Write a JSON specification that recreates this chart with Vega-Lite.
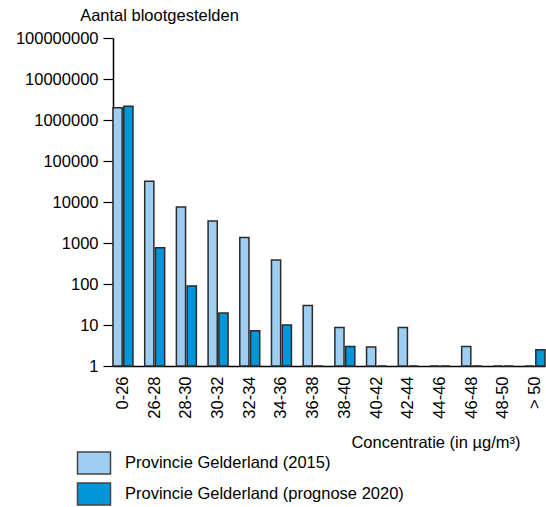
{
  "$schema": "https://vega.github.io/schema/vega-lite/v6.json",
  "width": 432,
  "height": 328,
  "autosize": {"type": "none"},
  "padding": {"left": 113, "top": 38, "right": 1, "bottom": 141},
  "config": {
    "font": "Liberation Sans",
    "view": {"stroke": null},
    "axis": {"labelFont": "Liberation Sans", "titleFont": "Liberation Sans", "labelColor": "#000", "titleColor": "#000", "labelFontSize": 16.5, "titleFontSize": 16.5, "titleFontWeight": "normal", "domainColor": "#000", "tickColor": "#000", "domainWidth": 1.5, "tickWidth": 1.2},
    "legend": {"labelFont": "Liberation Sans", "labelFontSize": 16.5, "labelColor": "#000"}
  },
  "data": {
    "values": [
      {"cat": "0-26", "serie": "Provincie Gelderland (2015)", "value": 2000000},
      {"cat": "0-26", "serie": "Provincie Gelderland (prognose 2020)", "value": 2150000},
      {"cat": "26-28", "serie": "Provincie Gelderland (2015)", "value": 32000},
      {"cat": "26-28", "serie": "Provincie Gelderland (prognose 2020)", "value": 770},
      {"cat": "28-30", "serie": "Provincie Gelderland (2015)", "value": 7500},
      {"cat": "28-30", "serie": "Provincie Gelderland (prognose 2020)", "value": 90},
      {"cat": "30-32", "serie": "Provincie Gelderland (2015)", "value": 3450},
      {"cat": "30-32", "serie": "Provincie Gelderland (prognose 2020)", "value": 19.5},
      {"cat": "32-34", "serie": "Provincie Gelderland (2015)", "value": 1370},
      {"cat": "32-34", "serie": "Provincie Gelderland (prognose 2020)", "value": 7.2},
      {"cat": "34-36", "serie": "Provincie Gelderland (2015)", "value": 385},
      {"cat": "34-36", "serie": "Provincie Gelderland (prognose 2020)", "value": 10},
      {"cat": "36-38", "serie": "Provincie Gelderland (2015)", "value": 30},
      {"cat": "36-38", "serie": "Provincie Gelderland (prognose 2020)", "value": 1},
      {"cat": "38-40", "serie": "Provincie Gelderland (2015)", "value": 8.7},
      {"cat": "38-40", "serie": "Provincie Gelderland (prognose 2020)", "value": 3},
      {"cat": "40-42", "serie": "Provincie Gelderland (2015)", "value": 2.9},
      {"cat": "40-42", "serie": "Provincie Gelderland (prognose 2020)", "value": 1},
      {"cat": "42-44", "serie": "Provincie Gelderland (2015)", "value": 8.7},
      {"cat": "42-44", "serie": "Provincie Gelderland (prognose 2020)", "value": 1},
      {"cat": "44-46", "serie": "Provincie Gelderland (2015)", "value": 1},
      {"cat": "44-46", "serie": "Provincie Gelderland (prognose 2020)", "value": 1},
      {"cat": "46-48", "serie": "Provincie Gelderland (2015)", "value": 3},
      {"cat": "46-48", "serie": "Provincie Gelderland (prognose 2020)", "value": 1},
      {"cat": "48-50", "serie": "Provincie Gelderland (2015)", "value": 1},
      {"cat": "48-50", "serie": "Provincie Gelderland (prognose 2020)", "value": 1},
      {"cat": "> 50", "serie": "Provincie Gelderland (2015)", "value": 1},
      {"cat": "> 50", "serie": "Provincie Gelderland (prognose 2020)", "value": 2.5}
    ]
  },
  "mark": {"type": "bar", "stroke": "#2b2b2b", "strokeWidth": 1.5},
  "encoding": {
    "x": {
      "field": "cat",
      "type": "nominal",
      "sort": null,
      "scale": {"paddingInner": 0.37, "paddingOuter": 0},
      "axis": {
        "title": "Concentratie (in µg/m³)",
        "ticks": false,
        "labelAngle": 270,
        "labelAlign": "right",
        "labelBaseline": "middle",
        "labelPadding": 10,
        "titleAlign": "right",
        "titleAnchor": null,
        "titleX": 407,
        "titleY": 81,
        "titleBaseline": "alphabetic"
      }
    },
    "xOffset": {
      "field": "serie",
      "type": "nominal",
      "scale": {"paddingInner": 0.15, "paddingOuter": 0}
    },
    "y": {
      "field": "value",
      "type": "quantitative",
      "stack": null,
      "scale": {"type": "log", "domain": [1, 100000000], "nice": false},
      "axis": {
        "title": "Aantal blootgestelden",
        "values": [1, 10, 100, 1000, 10000, 100000, 1000000, 10000000, 100000000],
        "format": "d",
        "grid": false,
        "tickSize": 10,
        "labelPadding": 5,
        "titleAngle": 0,
        "titleAlign": "center",
        "titleAnchor": null,
        "titleX": 46,
        "titleY": -18,
        "titleBaseline": "alphabetic"
      }
    },
    "y2": {"datum": 1},
    "fill": {
      "field": "serie",
      "type": "nominal",
      "scale": {"range": ["#9ecff3", "#0097da"]},
      "legend": {
        "title": null,
        "orient": "none",
        "legendX": -31,
        "legendY": 413,
        "direction": "vertical",
        "symbolType": "M-1.5,-1L1.5,-1L1.5,1L-1.5,1Z",
        "symbolSize": 484,
        "symbolStrokeColor": "#444",
        "symbolStrokeWidth": 1.5,
        "symbolOpacity": 1,
        "labelOffset": 19,
        "labelLimit": 400,
        "rowPadding": 3,
        "padding": 0
      }
    }
  }
}
